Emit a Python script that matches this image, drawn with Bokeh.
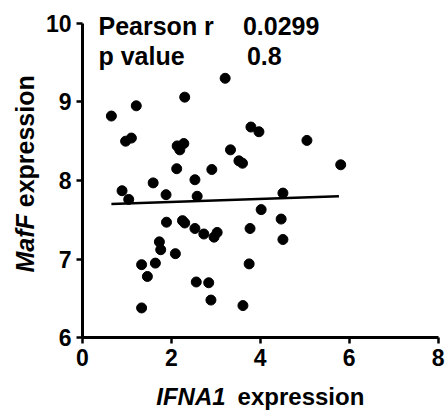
import math
from bokeh.plotting import figure
from bokeh.models import Label, FixedTicker, Range1d
from bokeh.embed import file_html
from bokeh.resources import INLINE

# data
ifna1 = [0.65, 1.21, 2.30, 3.21, 0.97, 1.10, 2.13, 2.28, 2.19, 3.79, 3.97, 5.05,
         3.33, 3.52, 3.60, 5.81, 2.12, 2.91, 2.53, 1.59, 0.89, 1.04, 1.88, 2.58,
         4.51, 4.02, 1.89, 2.25, 2.30, 2.53, 2.73, 2.96, 3.03, 3.77, 4.47, 4.51,
         1.73, 1.76, 2.09, 1.33, 1.64, 1.46, 3.75, 2.56, 2.84, 2.89, 3.61, 1.33]
maff = [8.82, 8.95, 9.06, 9.30, 8.50, 8.54, 8.44, 8.47, 8.39, 8.68, 8.62, 8.51,
        8.39, 8.25, 8.22, 8.20, 8.15, 8.14, 8.01, 7.97, 7.87, 7.76, 7.82, 7.80,
        7.84, 7.63, 7.47, 7.49, 7.46, 7.39, 7.32, 7.28, 7.34, 7.39, 7.51, 7.25,
        7.22, 7.12, 7.07, 6.93, 6.95, 6.78, 6.94, 6.71, 6.70, 6.48, 6.41, 6.38]
fit_x = [0.65, 5.77]
fit_y = [7.70, 7.80]
x_ticks = [0, 2, 4, 6, 8]
y_ticks = [6, 7, 8, 9, 10]
x_bounds = (0, 8)
y_bounds = (6, 10)
stats_names = ["Pearson r", "p value"]
stats_values = ["0.0299", "0.8"]

FONT = "Liberation Sans"

p = figure(width=447, height=414, output_backend="svg", toolbar_location=None,
           x_range=Range1d(-1.845, 8.213), y_range=Range1d(5.025, 10.289),
           min_border_left=0, min_border_right=0, min_border_top=0, min_border_bottom=0)
p.outline_line_color = None
p.xgrid.visible = False
p.ygrid.visible = False
p.background_fill_color = "white"
p.border_fill_color = "white"

for ax in (p.xaxis[0], p.yaxis[0]):
    ax.axis_line_width = 3
    ax.axis_line_color = "black"
    ax.major_tick_line_width = 2.5
    ax.major_tick_line_color = "black"
    ax.major_tick_out = 6
    ax.major_tick_in = 0
    ax.minor_tick_line_color = None
    ax.major_label_text_font = FONT
    ax.major_label_text_font_style = "bold"
    ax.major_label_text_font_size = "23px"
    ax.major_label_text_color = "black"
p.xaxis.ticker = FixedTicker(ticks=x_ticks)
p.yaxis.ticker = FixedTicker(ticks=y_ticks)
p.xaxis.fixed_location = y_bounds[0]
p.yaxis.fixed_location = x_bounds[0]
p.xaxis.bounds = x_bounds
p.yaxis.bounds = y_bounds
p.xaxis.major_label_standoff = 5
p.yaxis.major_label_standoff = 5

p.scatter(ifna1, maff, size=10, color="black")
p.line(fit_x, fit_y, line_width=2.5, color="black")

def lab(x, y, text, style="bold", size="25px", align="left", baseline="alphabetic", angle=0.0):
    p.add_layout(Label(x=x, y=y, text=text, text_font=FONT, text_font_style=style,
                       text_font_size=size, text_align=align, text_baseline=baseline,
                       text_color="black", angle=angle))

# statistics box
lab(0.36, 9.96, stats_names[0])
lab(3.61, 9.96, stats_values[0])
lab(0.36, 9.58, stats_names[1])
lab(3.70, 9.58, stats_values[1])

# x axis title
lab(3.22, 5.25, "IFNA1", style="bold italic", size="24px", align="right")
lab(3.49, 5.25, "expression", size="24px")

# y axis title (rotated)
lab(-1.30, 6.83, "MafF", style="bold italic", size="25px", angle=math.pi / 2)
lab(-1.30, 7.66, "expression", size="25px", angle=math.pi / 2)

open("out.html", "w").write(file_html(p, INLINE))
